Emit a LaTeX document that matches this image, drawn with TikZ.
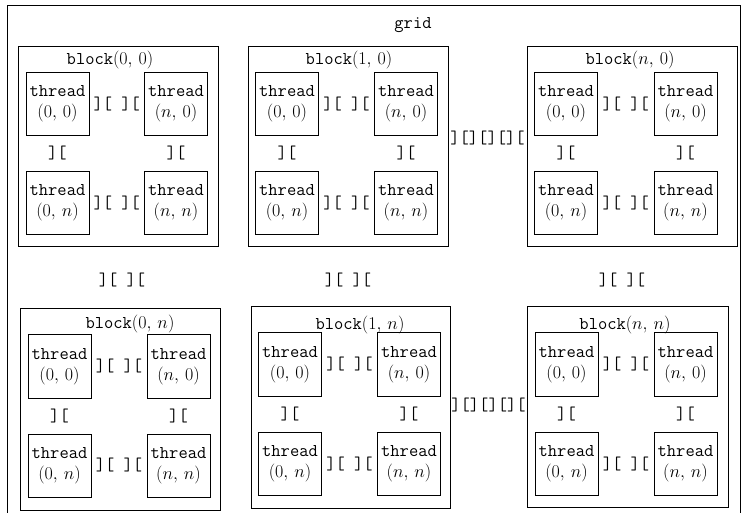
\RequirePackage{fix-cm}
\documentclass[tikz,border=0pt]{standalone}
\usepackage{fontspec}
\usetikzlibrary{calc}
\newcommand{\crd}[2]{$(#1,\,#2)$}
\begin{document}
\begin{tikzpicture}[x=1pt,y=-1pt,
  every node/.style={font=\fontsize{18}{21}\selectfont\ttfamily},
  thr/.style={draw,line width=1pt,minimum width=63pt,minimum height=63pt,inner sep=0pt,align=center},
  blk/.style={draw,line width=1pt,inner sep=0pt},
  dots/.style={inner sep=0pt},
  lbl/.style={inner sep=0pt}]
\useasboundingbox (0,0) rectangle (745,513);
% outer grid frame
\draw[line width=1pt] (7,513) -- (7,6) -- (740,6) -- (740,513);
\node[lbl] (grid) at (413,25) {grid};

% blocks
\node[blk,minimum width=200pt,minimum height=200pt] (b00) at (118,147) {};
\node[blk,minimum width=200pt,minimum height=200pt] (b10) at (348,147) {};
\node[blk,minimum width=210pt,minimum height=200pt] (bn0) at (632,147) {};
\node[blk,minimum width=200pt,minimum height=201pt] (b0n) at (120,409.5) {};
\node[blk,minimum width=199pt,minimum height=201pt] (b1n) at (350.5,407.5) {};
\node[blk,minimum width=201pt,minimum height=200pt] (bnn) at (627.5,407) {};

\node[lbl] (l00) at (110,60) {block\crd{0}{0}};
\node[lbl] (l10) at (349,60) {block\crd{1}{0}};
\node[lbl] (ln0) at (630,60) {block\crd{n}{0}};
\node[lbl] (l0n) at (130,324) {block\crd{0}{n}};
\node[lbl] (l1n) at (360,325) {block\crd{1}{n}};
\node[lbl] (lnn) at (625,325) {block\crd{n}{n}};

% threads: block(0,0)
\node[thr] (a1) at (57.5,104) {thread\\\crd{0}{0}};
\node[thr] (a2) at (176,104) {thread\\\crd{n}{0}};
\node[thr] (a3) at (57.5,203) {thread\\\crd{0}{n}};
\node[thr] (a4) at (176,203) {thread\\\crd{n}{n}};
% block(1,0)
\node[thr] (c1) at (287,104) {thread\\\crd{0}{0}};
\node[thr] (c2) at (406,104) {thread\\\crd{n}{0}};
\node[thr] (c3) at (287,203) {thread\\\crd{0}{n}};
\node[thr] (c4) at (406,203) {thread\\\crd{n}{n}};
% block(n,0)
\node[thr] (d1) at (566,104) {thread\\\crd{0}{0}};
\node[thr] (d2) at (685.5,104) {thread\\\crd{n}{0}};
\node[thr] (d3) at (566,203) {thread\\\crd{0}{n}};
\node[thr] (d4) at (685.5,203) {thread\\\crd{n}{n}};
% block(0,n)
\node[thr] (e1) at (59.5,366.5) {thread\\\crd{0}{0}};
\node[thr] (e2) at (178.5,366.5) {thread\\\crd{n}{0}};
\node[thr] (e3) at (59.5,465.5) {thread\\\crd{0}{n}};
\node[thr] (e4) at (178.5,465.5) {thread\\\crd{n}{n}};
% block(1,n)
\node[thr] (f1) at (290,364.5) {thread\\\crd{0}{0}};
\node[thr] (f2) at (409,364.5) {thread\\\crd{n}{0}};
\node[thr] (f3) at (290,463.5) {thread\\\crd{0}{n}};
\node[thr] (f4) at (409,463.5) {thread\\\crd{n}{n}};
% block(n,n)
\node[thr] (g1) at (566.5,364.5) {thread\\\crd{0}{0}};
\node[thr] (g2) at (685.5,364.5) {thread\\\crd{n}{0}};
\node[thr] (g3) at (566.5,463.5) {thread\\\crd{0}{n}};
\node[thr] (g4) at (685.5,463.5) {thread\\\crd{n}{n}};

% ellipsis marks inside blocks
\foreach \p in {a,c,d,e,f,g}{
  \node[dots] at ($(\p1.east)!0.5!(\p2.west)$) {][ ][};
  \node[dots] at ($(\p3.east)!0.5!(\p4.west)$) {][ ][};
  \node[dots] at ($(\p1.south)!0.5!(\p3.north)$) {][};
  \node[dots] at ($(\p2.south)!0.5!(\p4.north)$) {][};
}
% between rows of blocks
\node[dots] (v1) at (122,280) {][ ][};
\node[dots] (v2) at (348,280) {][ ][};
\node[dots] (v3) at (622,280) {][ ][};
% between columns of blocks
\node[dots] (h1) at ($(b10.east)!0.5!(bn0.west)+(0,-9)$) {][][][][};
\node[dots] (h2) at ($(b1n.east)!0.5!(bnn.west)+(0,-2.5)$) {][][][][};
\end{tikzpicture}
\end{document}
